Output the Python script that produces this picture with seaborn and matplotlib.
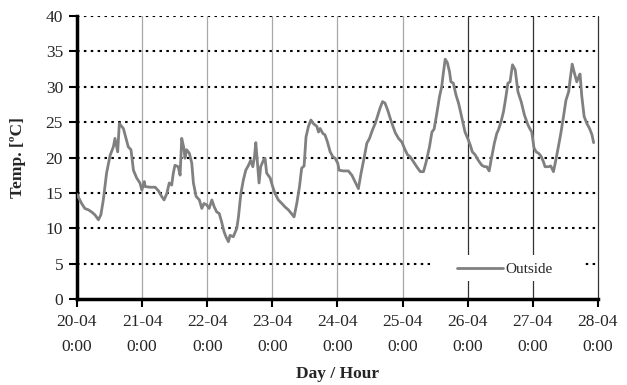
import numpy as np
import pandas as pd
import matplotlib
matplotlib.use("Agg")
import matplotlib.pyplot as plt
import seaborn as sns
from matplotlib.patches import Rectangle

# hours since 20-04 0:00 and outside temperature
hours = [0.0, 1.7, 2.9, 4.2, 5.4, 6.6, 7.9, 8.8, 9.7, 10.9, 12.2, 13.4, 14.0, 15.0, 15.6,
         17.1, 18.9, 19.9, 20.8, 22.0, 23.2, 23.9, 24.8,
         25.1, 26.9, 28.8, 30.0, 31.2, 32.1, 33.1, 34.0, 34.9, 35.5, 36.1, 37.3, 38.0, 38.6,
         39.4, 39.8, 40.4, 41.4, 42.3, 42.9, 43.9, 45.1, 46.0, 46.8, 47.8,
         48.7, 49.7, 50.6, 51.5, 52.4, 53.3, 54.2, 54.9, 55.8, 56.4, 57.6, 58.9, 59.5, 60.4,
         61.3, 62.2, 63.2, 64.0, 64.8, 65.4, 65.9, 66.5, 67.1, 67.7, 68.7, 69.3, 69.9, 71.2,
         72.1, 73.0, 74.2, 75.5, 76.7, 77.9, 79.2, 80.0, 81.0, 82.0, 82.8, 83.7, 84.4, 85.3,
         86.2, 87.1, 88.4, 89.0, 89.6, 90.6, 91.4, 92.3, 93.3, 94.3, 95.1,
         96.1, 96.6, 98.2, 100.0, 101.3, 102.2, 103.7, 104.7, 105.9, 106.8, 107.8, 108.9,
         109.9, 110.9, 111.7, 112.6, 113.5, 114.5, 115.8, 117.3, 118.5, 119.7,
         120.9, 121.8, 122.8, 124.0, 125.2, 126.5, 127.7, 128.7, 129.9, 130.8, 131.6, 132.6,
         133.6, 134.4, 135.0, 135.7, 136.5, 137.3, 137.8, 138.7, 139.7, 140.6, 141.5, 142.4,
         143.0, 144.0, 144.9,
         145.7, 146.7, 147.9, 149.2, 150.2, 151.0, 151.9, 152.6, 153.8, 154.7, 155.3, 156.3,
         157.2, 158.0, 158.8, 159.6, 160.5, 161.5, 162.5, 163.7, 164.9, 166.2, 167.0, 167.6,
         168.4,
         169.2, 170.1, 171.0, 171.9, 172.5, 173.8, 174.6, 175.6, 176.6, 177.4, 178.3, 179.3,
         180.2, 181.2, 181.8, 182.5, 183.2, 184.2, 184.9, 185.4, 186.0, 186.9, 187.9, 188.9,
         189.8, 190.4]
temp_c = [14.8, 13.5, 12.8, 12.6, 12.3, 11.9, 11.2, 11.9, 14.0, 17.8, 20.3, 21.5, 22.7, 20.8, 24.8,
          24.1, 21.5, 21.1, 18.2, 17.1, 16.4, 15.4, 16.6,
          15.9, 15.8, 15.8, 15.3, 14.5, 14.0, 14.9, 16.4, 16.1, 17.8, 18.9, 18.7, 17.5, 22.7,
          21.3, 19.9, 21.1, 20.6, 19.2, 16.4, 14.5, 14.0, 12.8, 13.5, 13.3,
          12.8, 14.0, 13.0, 12.3, 12.1, 10.9, 9.5, 8.8, 8.1, 9.0, 8.8, 10.0, 11.6, 14.9,
          16.8, 18.2, 18.9, 19.6, 18.7, 20.1, 22.1, 19.2, 16.4, 18.7, 19.6, 19.9, 17.8, 17.1,
          15.9, 14.9, 14.0, 13.5, 13.0, 12.6, 12.0, 11.6, 13.5, 15.9, 18.5, 18.8, 22.9, 24.4,
          25.3, 24.8, 24.4, 23.6, 24.1, 23.4, 23.2, 22.2, 20.8, 20.1, 19.9,
          19.2, 18.2, 18.1, 18.1, 17.5, 16.8, 15.6, 17.8, 20.1, 22.0, 22.7, 23.9,
          24.8, 26.0, 27.0, 27.9, 27.7, 26.7, 25.1, 23.5, 22.7, 22.2,
          21.1, 20.4, 20.1, 19.4, 18.7, 18.0, 18.0, 19.4, 21.5, 23.6, 24.0, 26.2,
          28.6, 30.0, 31.9, 33.9, 33.4, 32.1, 30.7, 30.5, 28.8, 27.7, 26.2, 24.6,
          23.6, 22.7, 21.8,
          20.8, 20.4, 19.6, 18.9, 18.7, 18.7, 18.1, 19.6, 22.0, 23.4, 23.9, 25.1,
          26.5, 28.4, 30.5, 30.7, 33.1, 32.4, 29.3, 27.9, 26.0, 24.6, 24.0, 23.6,
          21.4,
          20.8, 20.6, 20.2, 19.4, 18.7, 18.7, 18.8, 18.0, 19.9, 21.5, 23.4, 25.8,
          28.1, 29.3, 31.2, 33.2, 32.1, 30.7, 31.4, 31.8, 28.8, 25.8, 24.8, 24.1,
          23.2, 22.1]

day_labels = ["20-04", "21-04", "22-04", "23-04", "24-04", "25-04", "26-04", "27-04", "28-04"]
hour_label = "0:00"
y_ticks = [0, 5, 10, 15, 20, 25, 30, 35, 40]

df = pd.DataFrame({"hour": hours, "temp": temp_c})

sns.set_theme(style="white")
plt.rcParams["font.family"] = ["Liberation Serif", "DejaVu Serif"]

fig, ax = plt.subplots(figsize=(6.27, 3.85), dpi=100)
fig.subplots_adjust(left=0.1228, right=0.9537, top=0.9584, bottom=0.2234)

day_ticks = [24 * i for i in range(len(day_labels))]

# grid: dotted horizontal, light grey verticals, darker ones for the last days
ax.set_axisbelow(True)
for v in y_ticks[1:]:
    ax.axhline(v, color="black", lw=1.5, ls=(0, (1.2, 2.1)), zorder=0.5)
for i, d in enumerate(day_ticks[1:], start=1):
    col = "#a8a8a8" if i <= 5 else "#333333"
    ax.axvline(d, color=col, lw=0.9, zorder=0.6, clip_on=False)

sns.lineplot(data=df, x="hour", y="temp", ax=ax, color="#808080", lw=2.0,
             estimator=None, sort=False, label="Outside", zorder=3)

# white box behind the legend hides the grid lines
ax.add_patch(Rectangle((0.678, 0.062), 0.293, 0.092, transform=ax.transAxes,
                       facecolor="white", edgecolor="none", zorder=1))
leg = ax.legend(loc="center", bbox_to_anchor=(0.821, 0.104), frameon=False,
                fontsize=11, handlelength=3.0, handletextpad=0.15)
leg.set_zorder(5)

ax.set_xlim(0, 192)
ax.set_ylim(0, 40)
ax.set_xticks(day_ticks)
ax.set_xticklabels([f"{d}\n{hour_label}" for d in day_labels], fontsize=12.5, linespacing=1.7)
ax.set_yticks(y_ticks)
ax.set_yticklabels([str(v) for v in y_ticks], fontsize=12.5)
ax.tick_params(axis="both", direction="out", length=6, width=1.5, color="black",
               bottom=True, left=True, pad=4)
ax.tick_params(axis="x", pad=5)

for s in ["top", "right"]:
    ax.spines[s].set_visible(False)
for s in ["left", "bottom"]:
    ax.spines[s].set_color("black")
    ax.spines[s].set_linewidth(2.5)

ax.set_xlabel("Day / Hour", fontsize=12.5, fontweight="bold", labelpad=8)
ax.set_ylabel("Temp. [ºC]", fontsize=12.5, fontweight="bold", labelpad=14)

fig.savefig("out.png", dpi=100)
